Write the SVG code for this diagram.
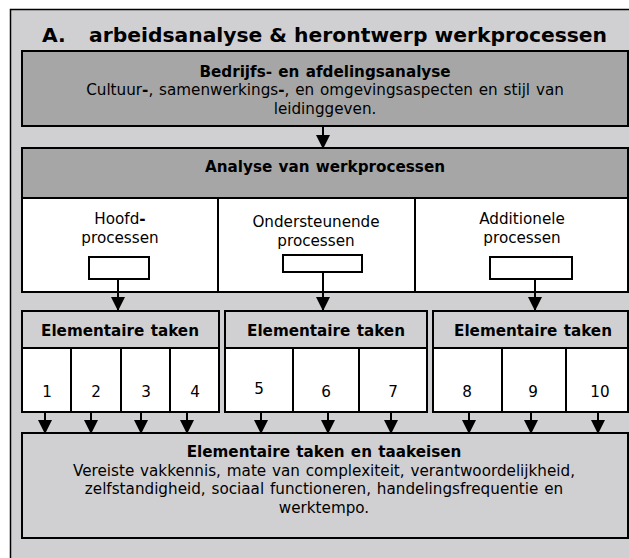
<svg xmlns="http://www.w3.org/2000/svg" width="629" height="558" viewBox="0 0 629 558">
  <style>
    text { font-family: "DejaVu Sans", Verdana, sans-serif; fill: #000; text-anchor: middle; word-spacing: 1px; }
    .title { font-size: 20.3px; font-weight: bold; text-anchor: start; word-spacing: 0; }
    .b { font-size: 15.2px; font-weight: bold; }
    .r { font-size: 15.2px; }
    .hy { font-weight: bold; }
    .dark { fill: #a6a6a6; stroke: #000; stroke-width: 2; }
    .light { fill: #d0d0d2; stroke: #000; stroke-width: 2; }
    .white { fill: #fff; stroke: #000; stroke-width: 2; }
    .div { stroke: #000; stroke-width: 2; }
    .conn { stroke: #000; stroke-width: 2; fill: none; marker-end: url(#head); }
  </style>
  <defs>
    <marker id="head" markerUnits="userSpaceOnUse" markerWidth="14" markerHeight="14" refX="13" refY="7" orient="auto" viewBox="0 0 14 14">
      <path d="M0,0 L14,7 L0,14 z" fill="#000"/>
    </marker>
  </defs>

  <!-- outer frame -->
  <g id="frame">
    <rect x="10.5" y="9.5" width="640" height="560" fill="#d0d0d2" stroke="#000" stroke-width="1.5"/>
    <text class="title" x="42" y="42">A.</text>
    <text class="title" x="89" y="42">arbeidsanalyse &amp; herontwerp werkprocessen</text>
  </g>

  <!-- company and department analysis -->
  <g id="bedrijfsanalyse">
    <rect class="dark" x="22" y="51" width="606" height="75"/>
    <text class="b" x="325" y="77">Bedrijfs- en afdelingsanalyse</text>
    <text class="r" x="325" y="95">Cultuur<tspan class="hy">-</tspan>, samenwerkings<tspan class="hy">-</tspan>, en omgevingsaspecten en stijl van</text>
    <text class="r" x="325" y="114">leidinggeven.</text>
  </g>

  <!-- analysis of work processes -->
  <g id="werkprocessen">
    <rect class="dark" x="22" y="148" width="606" height="50"/>
    <rect class="white" x="22" y="198" width="606" height="94"/>
    <line class="div" x1="218" y1="198" x2="218" y2="292"/>
    <line class="div" x1="415" y1="198" x2="415" y2="292"/>
    <text class="b" x="325" y="172">Analyse van werkprocessen</text>
  </g>

  <g id="hoofdprocessen">
    <text class="r" x="120" y="224">Hoofd<tspan class="hy">-</tspan></text>
    <text class="r" x="120" y="243">processen</text>
    <rect class="white" x="89" y="257" width="60" height="22"/>
  </g>

  <g id="ondersteunende-processen">
    <text class="r" x="316" y="227">Ondersteunende</text>
    <text class="r" x="316" y="246">processen</text>
    <rect class="white" x="283" y="255" width="79" height="17"/>
  </g>

  <g id="additionele-processen">
    <text class="r" x="522" y="224">Additionele</text>
    <text class="r" x="522" y="243">processen</text>
    <rect class="white" x="490" y="257" width="82" height="22"/>
  </g>

  <!-- elementary tasks, group 1 -->
  <g id="taken-1">
    <rect class="light" x="22" y="311" width="197" height="37"/>
    <rect class="white" x="22" y="348" width="197" height="64"/>
    <line class="div" x1="71" y1="348" x2="71" y2="412"/>
    <line class="div" x1="121" y1="348" x2="121" y2="412"/>
    <line class="div" x1="170" y1="348" x2="170" y2="412"/>
    <text class="b" x="120" y="336">Elementaire taken</text>
    <text class="r" x="47" y="397">1</text>
    <text class="r" x="96" y="397">2</text>
    <text class="r" x="146" y="397">3</text>
    <text class="r" x="195" y="397">4</text>
  </g>

  <!-- elementary tasks, group 2 -->
  <g id="taken-2">
    <rect class="light" x="225" y="311" width="202" height="37"/>
    <rect class="white" x="225" y="348" width="202" height="64"/>
    <line class="div" x1="293" y1="348" x2="293" y2="412"/>
    <line class="div" x1="359" y1="348" x2="359" y2="412"/>
    <text class="b" x="326" y="336">Elementaire taken</text>
    <text class="r" x="259" y="394">5</text>
    <text class="r" x="326" y="397">6</text>
    <text class="r" x="393" y="397">7</text>
  </g>

  <!-- elementary tasks, group 3 -->
  <g id="taken-3">
    <rect class="light" x="433" y="311" width="195" height="37"/>
    <rect class="white" x="433" y="348" width="195" height="64"/>
    <line class="div" x1="502" y1="348" x2="502" y2="412"/>
    <line class="div" x1="566" y1="348" x2="566" y2="412"/>
    <text class="b" x="533" y="336">Elementaire taken</text>
    <text class="r" x="467" y="397">8</text>
    <text class="r" x="533" y="397">9</text>
    <text class="r" x="600" y="397">10</text>
  </g>

  <!-- task requirements -->
  <g id="taakeisen">
    <rect class="light" x="22" y="433" width="606" height="105"/>
    <text class="b" x="324" y="457">Elementaire taken en taakeisen</text>
    <text class="r" x="324" y="476">Vereiste vakkennis, mate van complexiteit, verantwoordelijkheid,</text>
    <text class="r" x="324" y="494">zelfstandigheid, sociaal functioneren, handelingsfrequentie en</text>
    <text class="r" x="324" y="513">werktempo.</text>
  </g>

  <!-- connectors -->
  <g id="connectors">
    <line class="conn" x1="323" y1="126" x2="323" y2="148"/>
    <line class="conn" x1="118" y1="279" x2="118" y2="310"/>
    <line class="conn" x1="323" y1="272" x2="323" y2="310"/>
    <line class="conn" x1="535" y1="279" x2="535" y2="310"/>
    <line class="conn" x1="45" y1="412" x2="45" y2="433"/>
    <line class="conn" x1="91" y1="412" x2="91" y2="433"/>
    <line class="conn" x1="141" y1="412" x2="141" y2="433"/>
    <line class="conn" x1="187" y1="412" x2="187" y2="433"/>
    <line class="conn" x1="261" y1="412" x2="261" y2="433"/>
    <line class="conn" x1="328" y1="412" x2="328" y2="433"/>
    <line class="conn" x1="391" y1="412" x2="391" y2="433"/>
    <line class="conn" x1="469" y1="412" x2="469" y2="433"/>
    <line class="conn" x1="531" y1="412" x2="531" y2="433"/>
    <line class="conn" x1="598" y1="412" x2="598" y2="433"/>
  </g>
</svg>
